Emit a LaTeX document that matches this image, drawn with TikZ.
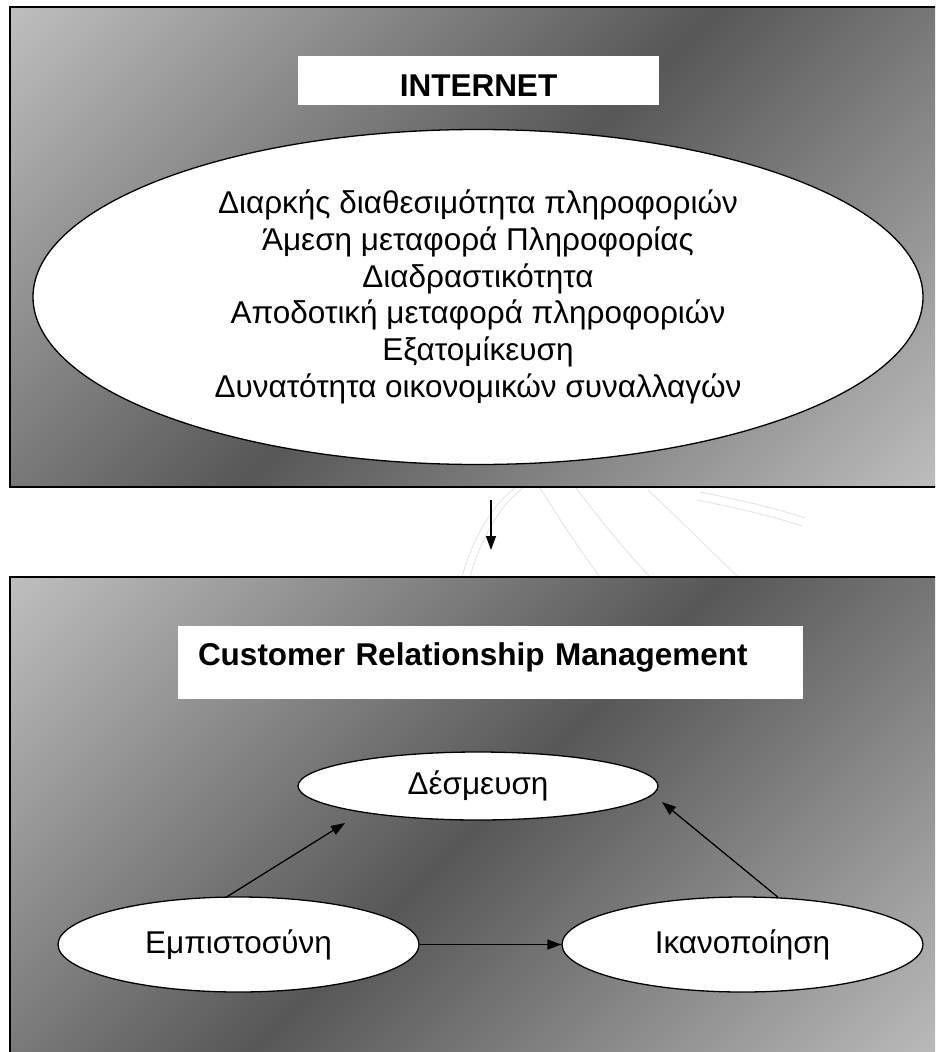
\documentclass[tikz,border=0pt]{standalone}
\usepackage{fontspec}
\setmainfont{Liberation Sans}
\usetikzlibrary{shapes.geometric,arrows.meta}

\definecolor{panellight}{HTML}{BDBDBD}
\definecolor{paneldark}{HTML}{575757}
\definecolor{markgray}{HTML}{E4E4E4}

% light - dark - light band, turned so the dark band runs along the diagonal
\pgfdeclareverticalshading{panelshade}{100bp}{%
  color(0bp)=(panellight); color(15bp)=(panellight);
  color(50bp)=(paneldark);
  color(85bp)=(panellight); color(100bp)=(panellight)}

\newcommand\diagfont{\fontsize{31.5pt}{36.7pt}\selectfont}

\begin{document}
\begin{tikzpicture}[x=1pt, y=-1pt,
  panel/.style={draw=black, line width=1.5pt, shade, shading=panelshade,
    shading angle=45, inner sep=0pt},
  titlebox/.style={fill=white, inner sep=0pt, font=\diagfont\bfseries},
  bubble/.style={ellipse, draw=black, line width=1.3pt, fill=white,
    inner sep=0pt, font=\diagfont},
  link/.style={-{Triangle[length=14pt,width=10pt]}, line width=1.3pt},
  wmstroke/.style={draw=markgray, line width=0.9pt}
]
\useasboundingbox (0,0) rectangle (935,1052);
\clip (0,0) rectangle (935,1052);

% faint background watermark strokes
\draw[wmstroke] (462,577) .. controls (472,540) and (492,505) .. (515,488);
\draw[wmstroke] (470,577) .. controls (480,540) and (500,505) .. (523,488);
\draw[wmstroke] (540,488) .. controls (560,520) and (580,550) .. (600,577);
\draw[wmstroke] (576,488) .. controls (600,520) and (625,550) .. (650,577);
\draw[wmstroke] (648,490) .. controls (680,520) and (710,550) .. (738,577);
\draw[wmstroke] (700,492) .. controls (740,500) and (775,508) .. (805,518);
\draw[wmstroke] (697,500) .. controls (737,508) and (772,516) .. (802,526);

% panels
\node[panel, minimum width=935pt, minimum height=480pt] (netpanel) at (477.5,247) {};
\node[panel, minimum width=935pt, minimum height=498pt] (crmpanel) at (477.5,826) {};

% upper panel content
\node[titlebox, minimum width=361pt, minimum height=49pt,
      text height=31.5pt, text depth=0pt] (inet) at (478.5,80.5) {INTERNET};
\node[bubble, minimum width=890pt, minimum height=335pt, align=center]
  (feat) at (478,297) {Διαρκής διαθεσιμότητα πληροφοριών\\
  Άμεση μεταφορά Πληροφορίας\\
  Διαδραστικότητα\\
  Αποδοτική μεταφορά πληροφοριών\\
  Εξατομίκευση\\
  Δυνατότητα οικονομικών συναλλαγών};

% arrow between the panels
\coordinate (gaptop) at (491,500);
\coordinate (gapbot) at (491,550);
\draw[link] (gaptop) -- (gapbot);

% lower panel content
\node[titlebox, minimum width=625pt, minimum height=73pt, text width=585pt,
      align=left, text height=25pt, text depth=20pt]
  (crm) at (490.5,662.5) {Customer Relationship Management};
\node[bubble, minimum width=360pt, minimum height=68pt] (bind) at (478,786) {Δέσμευση};
\node[bubble, minimum width=361pt, minimum height=95pt] (trust) at (238.5,944.5) {Εμπιστοσύνη};
\node[bubble, minimum width=361pt, minimum height=95pt] (satis) at (742.5,944.5) {Ικανοποίηση};

\coordinate (bindleft) at (345,823);
\coordinate (bindright) at (662,802);
\draw[link] (trust.east) -- (satis.west);
\draw[link] (trust.103) -- (bindleft);
\draw[link] (satis.53) -- (bindright);
\end{tikzpicture}
\end{document}
